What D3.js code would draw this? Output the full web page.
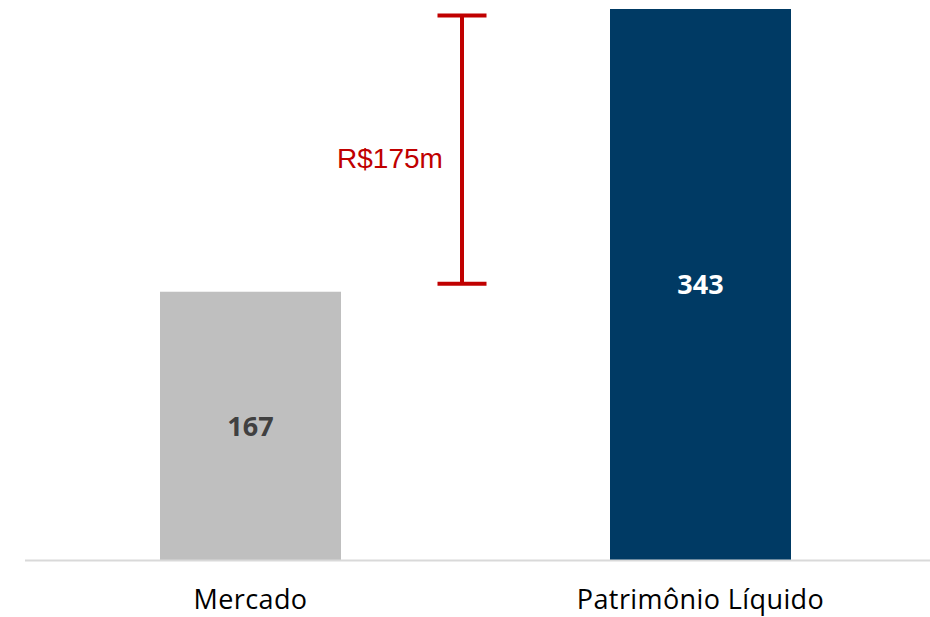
<!DOCTYPE html>
<html>
<head>
<meta charset="utf-8">
<script src="https://cdn.jsdelivr.net/npm/d3@7"></script>
<style>
  html, body { margin: 0; padding: 0; background: #ffffff; }
  svg { display: block; }
</style>
</head>
<body>
<svg id="chart" width="930" height="617"></svg>
<script>
// ---- data ----
const categories = ["Mercado", "Patrimônio Líquido"];
const values = [167, 343];
const valueLabels = ["167", "343"];
const barColors = ["#BFBFBF", "#003A64"];
const valueLabelColors = ["#404040", "#FFFFFF"];
const gapTop = 339;      // upper end of the difference bracket
const gapBottom = 172;   // lower end of the difference bracket
const gapLabel = "R$175m";

// ---- layout ----
const svg = d3.select("#chart");

const bw = 181, step = 450;
const x = d3.scaleBand()
  .domain(categories)
  .range([160, 160 + step + bw])
  .paddingInner((step - bw) / step)
  .paddingOuter(0);

const y = d3.scaleLinear().domain([0, 343]).range([560, 9]);

// bars
svg.selectAll("rect.bar")
  .data(categories)
  .join("rect")
  .attr("class", "bar")
  .attr("x", d => x(d))
  .attr("width", x.bandwidth())
  .attr("y", (d, i) => y(values[i]))
  .attr("height", (d, i) => y(0) - y(values[i]))
  .attr("fill", (d, i) => barColors[i]);

// baseline axis line
svg.append("line")
  .attr("x1", 25).attr("x2", 930)
  .attr("y1", y(0) + 0.5).attr("y2", y(0) + 0.5)
  .attr("stroke", "#D9D9D9").attr("stroke-width", 2);

// value labels
svg.selectAll("text.val")
  .data(categories)
  .join("text")
  .attr("class", "val")
  .attr("x", d => x(d) + x.bandwidth() / 2)
  .attr("y", (d, i) => (y(values[i]) + y(0)) / 2)
  .attr("dy", "0.36em")
  .attr("text-anchor", "middle")
  .attr("font-family", "'Open Sans', Lato, sans-serif")
  .attr("font-weight", 700)
  .attr("font-size", 27)
  .attr("fill", (d, i) => valueLabelColors[i])
  .text((d, i) => valueLabels[i]);

// category labels
svg.selectAll("text.cat")
  .data(categories)
  .join("text")
  .attr("class", "cat")
  .attr("x", d => x(d) + x.bandwidth() / 2)
  .attr("y", 609)
  .attr("text-anchor", "middle")
  .attr("font-family", "'Open Sans', Lato, sans-serif")
  .attr("font-size", 27)
  .attr("letter-spacing", 0.4)
  .attr("fill", "#000000")
  .text(d => d);

// difference bracket
const bx = 462;
const capHalf = 24.5;
const red = "#C00000";
const g = svg.append("g").attr("stroke", red).attr("stroke-width", 4);
g.append("line").attr("x1", bx).attr("x2", bx).attr("y1", y(gapTop)).attr("y2", y(gapBottom));
g.append("line").attr("x1", bx - capHalf).attr("x2", bx + capHalf).attr("y1", y(gapTop)).attr("y2", y(gapTop));
g.append("line").attr("x1", bx - capHalf).attr("x2", bx + capHalf).attr("y1", y(gapBottom)).attr("y2", y(gapBottom));

svg.append("text")
  .attr("x", 390)
  .attr("y", (y(gapTop) + y(gapBottom)) / 2 + 18)
  .attr("text-anchor", "middle")
  .attr("font-family", "'Liberation Sans', Arial, sans-serif")
  .attr("font-size", 28)
  .attr("fill", red)
  .text(gapLabel);
</script>
</body>
</html>
